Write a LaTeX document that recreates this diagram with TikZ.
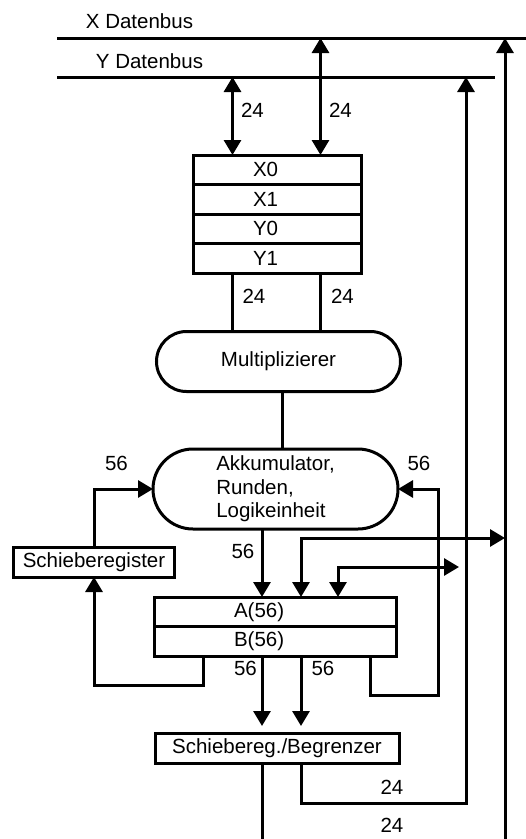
\documentclass[tikz,border=0pt]{standalone}
\usepackage{fontspec}
\setmainfont{Liberation Sans}
\usetikzlibrary{arrows.meta}
\usetikzlibrary{positioning}
\usetikzlibrary{shapes.misc}
\tikzset{wire/.style={draw, line width=3pt}}
\tikzset{flow/.style={wire, -{Triangle[length=15pt,width=17pt]}}}
\tikzset{dual/.style={wire, {Triangle[length=15pt,width=17pt]}-{Triangle[length=15pt,width=17pt]}}}
\tikzset{regbox/.style={draw, line width=3pt, inner sep=0pt, outer sep=0pt}}
\tikzset{xyrow/.style={regbox, minimum height=29.5pt, inner xsep=60pt, text width=48pt, align=left}}
\tikzset{abrow/.style={regbox, minimum height=29.5pt, inner xsep=80pt, text width=82pt, align=left}}
\tikzset{unitbox/.style={regbox, rounded rectangle}}
\tikzset{bits/.style={inner sep=0pt}}

\begin{document}
\begin{tikzpicture}[x=1pt, y=-1pt, font=\fontsize{20.5}{23.5}\selectfont]
  \useasboundingbox (0,0) rectangle (526,839);

  % data buses
  \coordinate (xbusL) at (57,38);
  \coordinate (xbusR) at (526,38);
  \coordinate (ybusL) at (57,77);
  \coordinate (ybusR) at (495,77);
  \draw[wire] (xbusL) -- (xbusR);
  \draw[wire] (ybusL) -- (ybusR);
  \node[bits] (xbus) at (139.5,21.5) {X Datenbus};
  \node[bits] (ybus) at (149.5,61) {Y Datenbus};

  % columns and rows of the wiring
  \coordinate (colA) at (232.5,0);
  \coordinate (colB) at (320.5,0);
  \coordinate (colM) at (282,0);
  \coordinate (colL) at (203,0);
  \coordinate (colS) at (262,0);
  \coordinate (colT) at (301,0);
  \coordinate (colU) at (338,0);
  \coordinate (colR) at (370,0);
  \coordinate (colQ) at (438,0);
  \coordinate (colY) at (466,0);
  \coordinate (colX) at (505,0);
  \coordinate (rowT) at (0,538);
  \coordinate (rowU) at (0,567);
  \coordinate (rowL) at (0,685);
  \coordinate (rowR) at (0,695);
  \coordinate (rowY) at (0,803);
  \coordinate (bottom) at (0,839);

  % input registers
  \node[xyrow] (x0) at (277,169.75) {X0};
  \node[xyrow, below=0pt of x0] (x1) {X1};
  \node[xyrow, below=0pt of x1] (y0) {Y0};
  \node[xyrow, below=0pt of y0] (y1) {Y1};

  \draw[dual] (colA |- ybusL) -- (colA |- x0.north);
  \draw[dual] (colB |- xbusL) -- (colB |- x0.north);
  \node[bits] (w1) at (252.5,110) {24};
  \node[bits] (w2) at (340.5,110) {24};

  % multiplier and accumulator
  \node[unitbox, minimum width=244pt, minimum height=60pt] (mult) at (278.5,361.5) {Multiplizierer};
  \node[unitbox, minimum width=245pt, minimum height=80pt, align=left] (akku) at (275.5,489) {Akkumulator,\\Runden,\\Logikeinheit};
  \draw[wire] (colA |- y1.south) -- (colA |- mult.north);
  \draw[wire] (colB |- y1.south) -- (colB |- mult.north);
  \draw[wire] (colM |- mult.south) -- (colM |- akku.north);
  \node[bits] (w3) at (254,296) {24};
  \node[bits] (w4) at (342.5,296) {24};

  % accumulator registers A and B
  \node[abrow] (areg) at (275,611.75) {A(56)};
  \node[abrow, below=0pt of areg] (breg) {B(56)};
  \node[regbox, minimum width=161pt, minimum height=30pt] (schieb) at (94,562) {Schieberegister};
  \node[regbox, minimum width=244pt, minimum height=30pt] (sbeg) at (277,748) {Schiebereg./Begrenzer};

  % feedback loops
  \draw[flow] (schieb.north) |- (akku.west);
  \draw[flow] (colL |- breg.south) -- (colL |- rowL) -| (schieb.south);
  \draw[flow] (colR |- breg.south) -- (colR |- rowR) -| (colQ |- akku.east) -- (akku.east);
  \node[bits] (w5) at (116.5,463) {56};
  \node[bits] (w6) at (419,463) {56};

  % into A
  \draw[flow] (colS |- akku.south) -- (colS |- areg.north);
  \draw[dual] (colT |- areg.north) |- (colX |- rowT);
  \draw[dual, shorten >=7pt] (colU |- areg.north) |- (colY |- rowU);
  \node[bits] (w7) at (243,551) {56};

  % outputs
  \draw[flow, shorten >=7pt] (colS |- breg.south) -- (colS |- sbeg.north);
  \draw[flow, shorten >=7pt] (colT |- breg.south) -- (colT |- sbeg.north);
  \node[bits] (w8) at (245.5,668) {56};
  \node[bits] (w9) at (323,668) {56};
  \draw[wire] (colS |- sbeg.south) -- (colS |- bottom);
  \draw[flow] (colT |- sbeg.south) -- (colT |- rowY) -| (colY |- ybusR);
  \draw[flow] (colX |- bottom) -- (colX |- xbusR);
  \node[bits] (w10) at (392,787) {24};
  \node[bits] (w11) at (392,825) {24};
\end{tikzpicture}
\end{document}
